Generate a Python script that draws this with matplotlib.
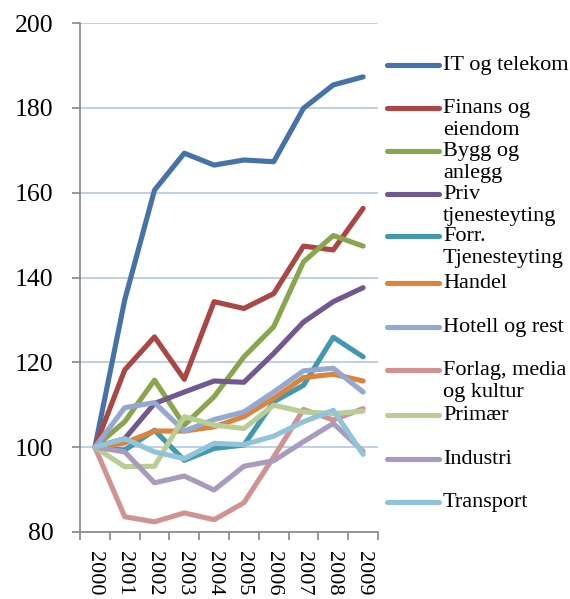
import numpy as np
import matplotlib.pyplot as plt

# Indeks 2000 = 100, per næring
years = ['2000', '2001', '2002', '2003', '2004', '2005', '2006', '2007', '2008', '2009']

it_telekom = [100, 134.7, 160.6, 169.3, 166.5, 167.7, 167.3, 179.9, 185.4, 187.3]
finans = [100, 118.2, 126.0, 116.0, 134.3, 132.7, 136.2, 147.4, 146.5, 156.3]
bygg = [100, 106.0, 115.8, 105.2, 111.9, 121.3, 128.4, 143.7, 149.9, 147.4]
priv_tj = [100, 102.0, 110.3, 113.0, 115.6, 115.3, 122.1, 129.5, 134.3, 137.6]
forr_tj = [100, 99.3, 104.0, 96.9, 99.7, 100.5, 110.7, 114.6, 125.9, 121.3]
handel = [100, 101.0, 103.8, 103.8, 104.8, 107.2, 111.5, 116.4, 117.2, 115.6]
hotell = [100, 109.3, 110.5, 103.8, 106.5, 108.3, 113.0, 118.0, 118.6, 113.0]
forlag = [100, 83.6, 82.4, 84.5, 82.9, 86.9, 97.7, 108.9, 106.4, 109.1]
primaer = [100, 95.4, 95.5, 107.2, 105.2, 104.4, 109.9, 108.3, 107.9, 108.5]
industri = [100, 98.9, 91.6, 93.2, 89.9, 95.5, 96.8, 101.3, 105.6, 99.0]
transport = [100, 102.0, 98.9, 97.3, 100.9, 100.6, 102.6, 106.0, 108.7, 98.3]

series = [it_telekom, finans, bygg, priv_tj, forr_tj, handel, hotell,
          forlag, primaer, industri, transport]
labels = ['IT og telekom', 'Finans og\neiendom', 'Bygg og\nanlegg',
          'Priv\ntjenesteyting', 'Forr.\nTjenesteyting', 'Handel',
          'Hotell og rest', 'Forlag, media\nog kultur', 'Primær',
          'Industri', 'Transport']
colors = ['#4572A7', '#AA4643', '#89A54E', '#71588F', '#4198AF', '#DB843D',
          '#93A9CF', '#D19392', '#B9CD96', '#A99BBD', '#92C4D9']

plt.rcParams['font.family'] = ['Liberation Serif', 'DejaVu Serif']

W, H = 570, 599
fig = plt.figure(figsize=(W / 100, H / 100), dpi=100)
ax = fig.add_axes([80 / W, 1 - 532 / H, (378 - 80) / W, (532 - 23) / H])

x = np.arange(len(years))
for vals, c in zip(series, colors):
    ax.plot(x, vals, color=c, lw=3.7, solid_capstyle='round',
            solid_joinstyle='round')

ax.set_ylim(80, 200)
ax.set_yticks(np.arange(80, 201, 20))
ax.set_xlim(-0.5, len(years) - 0.5)
ax.set_xticks(x)
ax.set_xticklabels(years, rotation=270, fontsize=16)
ax.set_xticks(np.arange(-0.5, len(years)), minor=True)
ax.tick_params(axis='x', which='major', length=0, pad=14)
ax.tick_params(axis='x', which='minor', length=6, width=1.2, color='#868686',
               direction='out')
ax.tick_params(axis='y', length=6, width=1.2, color='#868686', pad=13,
               labelsize=18.5)
ax.yaxis.grid(True, color='#B9CDE5', lw=1.3)
ax.set_axisbelow(True)
for s in ['top', 'right']:
    ax.spines[s].set_visible(False)
for s in ['left', 'bottom']:
    ax.spines[s].set_color('#868686')
    ax.spines[s].set_linewidth(1.2)

# Legende til høyre
lg = fig.add_axes([0, 0, 1, 1])
lg.set_xlim(0, W)
lg.set_ylim(H, 0)
lg.axis('off')
leg_y = [65, 108, 151, 194, 236, 283, 327, 370, 415, 459, 502]
for yy, lab, c in zip(leg_y, labels, colors):
    lg.plot([387, 439], [yy, yy], color=c, lw=3.7, solid_capstyle='round')
    lg.text(443, yy - 9, lab, fontsize=16, va='top', ha='left',
            linespacing=1.22)

fig.savefig('out.png', dpi=100)
